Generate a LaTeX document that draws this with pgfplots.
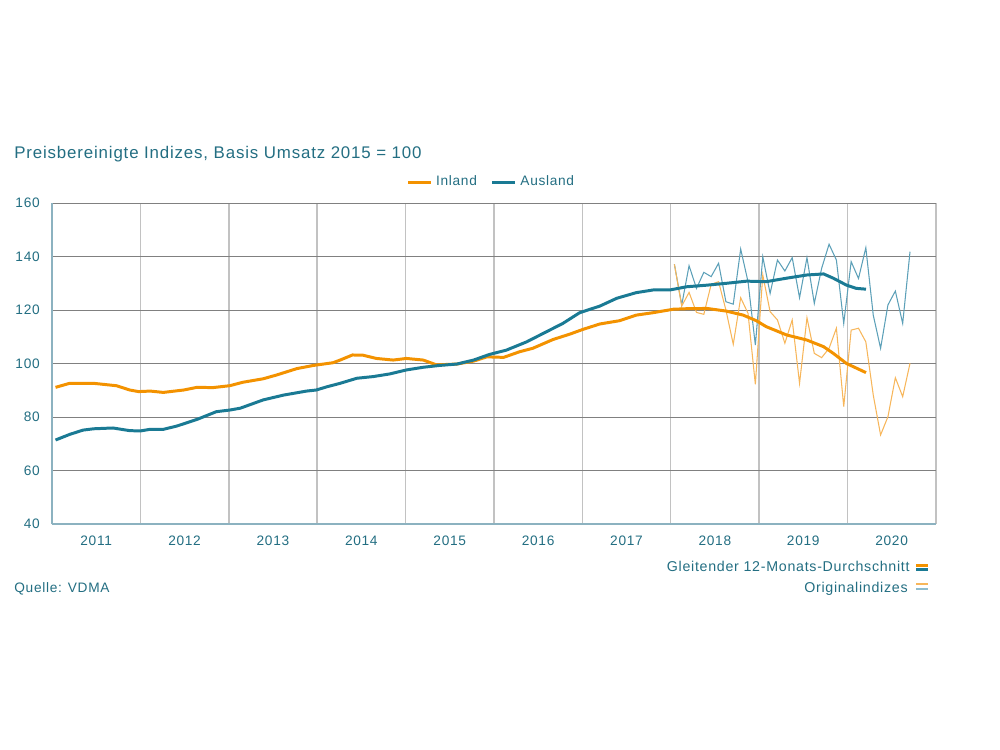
\documentclass[border=0pt]{standalone}
\usepackage{fontspec}
\setmainfont{Liberation Sans}[LetterSpace=5]
\usepackage{pgfplots}
\pgfplotsset{compat=1.18}
\definecolor{vorange}{RGB}{243,146,0}
\definecolor{vblue}{RGB}{26,122,148}
\definecolor{lorange}{RGB}{247,182,90}
\definecolor{lblue}{RGB}{92,160,184}
\definecolor{vtext}{RGB}{35,110,130}
\definecolor{axisblue}{RGB}{140,178,192}
\begin{document}
\begin{tikzpicture}[x=0.02cm,y=0.02cm]
\path[use as bounding box] (-52,-226) rectangle (948,524);
\begin{axis}[
  at={(0,0)}, anchor=south west,
  scale only axis, width=17.68cm, height=6.42cm,
  xmin=2011, xmax=2021, ymin=40, ymax=160,
  ytick={40,60,...,160},
  xtick={2011.5,2012.5,2013.5,2014.5,2015.5,2016.5,2017.5,2018.5,2019.5,2020.5},
  xticklabels={2011,2012,2013,2014,2015,2016,2017,2018,2019,2020},
  minor xtick={2012,2013,2014,2015,2016,2017,2018,2019,2020,2021},
  major tick length=0pt, minor tick length=0pt,
  ymajorgrids=true, xmajorgrids=false, xminorgrids=true,
  major grid style={draw=black!50, line width=0.5pt},
  minor grid style={draw=black!24, line width=0.9pt},
  axis x line*=bottom, axis y line*=left,
  axis line style={draw=axisblue, line width=1.1pt},
  tick label style={font=\fontsize{7.8}{9}\selectfont, text=vtext, inner sep=0pt},
  yticklabel style={anchor=east, xshift=-6.8pt},
  xticklabel style={anchor=north, yshift=-6.8pt},
  /pgf/number format/assume math mode=true,
  yticklabel={\pgfmathprintnumber[1000 sep=]{\tick}},
  legend style={at={(0.498,1.065)}, anchor=center, draw=none, fill=none,
    legend columns=2, font=\fontsize{7.8}{9}\selectfont, text=vtext,
    /tikz/every even column/.append style={column sep=6pt}},
  legend image code/.code={\draw[#1] (0,0) -- (0.46cm,0);},
]
% original indices (monthly, Jan 2018 - Sep 2020)
\addplot[forget plot, lblue, line width=0.6pt] coordinates {
(2018.042,137.1)(2018.125,121.9)(2018.208,136.6)(2018.292,128.1)(2018.375,134.1)(2018.458,132.5)
(2018.542,137.5)(2018.625,123.1)(2018.708,122.2)(2018.792,142.8)(2018.875,130.6)(2018.958,106.9)
(2019.042,139.9)(2019.125,126.2)(2019.208,138.7)(2019.292,134.6)(2019.375,139.6)(2019.458,124.6)
(2019.542,139.6)(2019.625,122.5)(2019.708,135.6)(2019.792,144.6)(2019.875,138.7)(2019.958,115.0)
(2020.042,138.1)(2020.125,131.8)(2020.208,143.3)(2020.292,118.1)(2020.375,105.7)(2020.458,121.9)
(2020.542,127.1)(2020.625,115.0)(2020.708,141.8)};
\addplot[forget plot, lorange, line width=0.6pt] coordinates {
(2018.042,137.1)(2018.125,121.5)(2018.208,126.6)(2018.292,119.1)(2018.375,118.4)(2018.458,129.6)
(2018.542,130.6)(2018.625,120.0)(2018.708,107.2)(2018.792,124.6)(2018.875,118.8)(2018.958,92.2)
(2019.042,133.1)(2019.125,119.4)(2019.208,116.3)(2019.292,107.6)(2019.375,116.3)(2019.458,92.6)
(2019.542,117.1)(2019.625,103.8)(2019.708,102.2)(2019.792,105.7)(2019.875,113.2)(2019.958,83.9)
(2020.042,112.5)(2020.125,113.2)(2020.208,108.1)(2020.292,88.2)(2020.375,73.3)(2020.458,80.1)
(2020.542,94.7)(2020.625,87.6)(2020.708,100.1)};
% moving averages
\addplot[vorange, line width=1.7pt] coordinates {
(2011.04,91.1)(2011.20,92.6)(2011.47,92.6)(2011.73,91.7)(2011.88,90.1)(2011.98,89.5)
(2012.11,89.7)(2012.26,89.2)(2012.49,90.1)(2012.64,91.1)(2012.82,91.0)(2013.01,91.7)
(2013.16,93.0)(2013.39,94.3)(2013.54,95.7)(2013.77,98.1)(2013.96,99.3)(2014.18,100.3)
(2014.26,101.3)(2014.40,103.2)(2014.52,103.1)(2014.67,101.9)(2014.86,101.3)(2015.01,101.9)
(2015.20,101.3)(2015.35,99.5)(2015.58,99.8)(2015.77,100.9)(2015.92,102.5)(2016.11,102.3)
(2016.29,104.4)(2016.44,105.7)(2016.67,109.0)(2016.86,111.0)(2017.01,112.8)(2017.20,114.8)
(2017.42,116.0)(2017.61,118.1)(2017.80,119.0)(2018.03,120.3)(2018.18,120.5)(2018.41,120.6)
(2018.63,119.6)(2018.82,118.1)(2018.97,116.0)(2019.08,113.8)(2019.31,110.7)(2019.54,108.8)
(2019.73,106.3)(2019.84,103.8)(2019.99,100.0)(2020.21,96.6)};
\addlegendentry{Inland}
\addplot[vblue, line width=1.7pt] coordinates {
(2011.04,71.4)(2011.20,73.5)(2011.35,75.1)(2011.47,75.6)(2011.69,75.9)(2011.88,74.9)
(2012.00,74.8)(2012.11,75.4)(2012.26,75.4)(2012.41,76.6)(2012.64,79.1)(2012.86,82.0)
(2013.01,82.6)(2013.13,83.3)(2013.39,86.4)(2013.62,88.2)(2013.88,89.7)(2013.99,90.1)
(2014.11,91.3)(2014.26,92.6)(2014.45,94.5)(2014.63,95.1)(2014.82,96.1)(2015.01,97.6)
(2015.20,98.6)(2015.39,99.3)(2015.58,99.8)(2015.77,101.3)(2015.95,103.4)(2016.14,105.0)
(2016.37,108.1)(2016.56,111.3)(2016.78,115.0)(2016.97,119.0)(2017.20,121.5)(2017.39,124.4)
(2017.61,126.5)(2017.80,127.5)(2017.99,127.5)(2018.18,128.7)(2018.41,129.3)(2018.63,130.0)
(2018.86,130.8)(2019.08,130.6)(2019.31,131.9)(2019.54,133.1)(2019.73,133.5)(2019.84,131.9)
(2019.99,129.3)(2020.10,128.1)(2020.21,127.8)};
\addlegendentry{Ausland}
\end{axis}
\node[anchor=base west, inner sep=0pt, text=vtext, font=\fontsize{9.6}{11}\selectfont] at (-38,365) {Preisbereinigte Indizes, Basis Umsatz 2015 = 100};
\node[anchor=base east, inner sep=0pt, text=vtext, font=\fontsize{8.1}{9}\selectfont] at (858,-47) {Gleitender 12-Monats-Durchschnitt};
\draw[vorange, line width=1.6pt] (864,-41.3) -- (876,-41.3);
\draw[vblue, line width=1.6pt] (864,-45.3) -- (876,-45.3);
\node[anchor=base east, inner sep=0pt, text=vtext, font=\fontsize{8.1}{9}\selectfont] at (856,-68) {Originalindizes};
\draw[lorange, line width=1pt] (864,-60.3) -- (876,-60.3);
\draw[lblue!70, line width=1pt] (864,-65) -- (876,-65);
\node[anchor=base west, inner sep=0pt, text=vtext, font=\fontsize{7.8}{9}\selectfont] at (-38,-68) {Quelle: VDMA};
\end{tikzpicture}
\end{document}
